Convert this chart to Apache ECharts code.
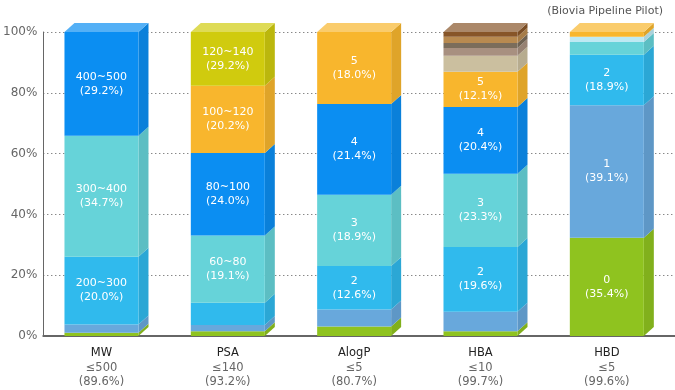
<!DOCTYPE html>
<html>
<head>
<meta charset="utf-8">
<script src="https://cdn.jsdelivr.net/npm/echarts@6/dist/echarts.min.js"></script>
<style>
html,body{margin:0;padding:0;background:#fff;}
#chart{width:675px;height:390px;}
</style>
</head>
<body>
<div id="chart"></div>
<script>
const categories = ['MW', 'PSA', 'AlogP', 'HBA', 'HBD'];
const limitLabels = ['≤500', '≤140', '≤5', '≤10', '≤5'];
const passRates = ['(89.6%)', '(93.2%)', '(80.7%)', '(99.7%)', '(99.6%)'];
const yTicks = [0, 20, 40, 60, 80, 100];

const mwValues = [1.1, 2.7, 22.3, 39.8, 34.1];
const mwColors = ['green', 'steel', 'sky', 'teal', 'blue'];
const mwLabels = ['', '', '200~300\n(20.0%)', '300~400\n(34.7%)', '400~500\n(29.2%)'];

const psaValues = [1.6, 2.0, 7.3, 22.2, 27.1, 22.1, 17.7];
const psaColors = ['green', 'steel', 'sky', 'teal', 'blue', 'orange', 'olive'];
const psaLabels = ['', '', '', '60~80\n(19.1%)', '80~100\n(24.0%)', '100~120\n(20.2%)', '120~140\n(29.2%)'];

const alogpValues = [3.1, 5.6, 14.3, 23.5, 29.8, 23.7];
const alogpColors = ['green', 'steel', 'sky', 'teal', 'blue', 'orange'];
const alogpLabels = ['', '', '2\n(12.6%)', '3\n(18.9%)', '4\n(21.4%)', '5\n(18.0%)'];

const hbaValues = [1.6, 6.4, 21.3, 24.1, 21.9, 11.6, 5.3, 2.5, 1.7, 2.0, 1.6];
const hbaColors = ['green', 'steel', 'sky', 'teal', 'blue', 'orange', 'beige', 'rosy', 'taupe', 'tan', 'brown'];
const hbaLabels = ['', '', '2\n(19.6%)', '3\n(23.3%)', '4\n(20.4%)', '5\n(12.1%)', '', '', '', '', ''];

const hbdValues = [32.3, 43.6, 16.6, 4.2, 1.7, 1.6];
const hbdColors = ['green', 'steel', 'sky', 'teal', 'pale', 'orange'];
const hbdLabels = ['0\n(35.4%)', '1\n(39.1%)', '2\n(18.9%)', '', '', ''];

const palette = {
  green: '#8fc31f', steel: '#68a8dc', sky: '#30baed', teal: '#66d3d9',
  blue: '#0b8ef2', orange: '#f8b62d', olive: '#d0cb0e', beige: '#cbbf9f',
  rosy: '#a89080', taupe: '#7b6d5b', tan: '#b88a50', brown: '#875528', pale: '#bde9f3'
};

const stacks = [
  [mwValues, mwColors, mwLabels],
  [psaValues, psaColors, psaLabels],
  [alogpValues, alogpColors, alogpLabels],
  [hbaValues, hbaColors, hbaLabels],
  [hbdValues, hbdColors, hbdLabels]
];

const segData = [];
const segColor = [];
const segLabel = [];
stacks.forEach(function (st, ci) {
  let acc = 0;
  st[0].forEach(function (v, k) {
    const isTop = k === st[0].length - 1 ? 1 : 0;
    segData.push([ci, acc, acc + v, segColor.length, isTop]);
    segColor.push(palette[st[1][k]]);
    segLabel.push(st[2][k]);
    acc += v;
  });
});

const FONT = '"DejaVu Sans", Verdana, sans-serif';
const FACE_W = 74, DEPTH_X = 10, DEPTH_Y = 9;

function shade(hex, t) {
  const c = echarts.color.parse(hex);
  const out = [0, 1, 2].map(function (i) {
    const v = t >= 0 ? c[i] + (255 - c[i]) * t : c[i] * (1 + t);
    return Math.round(v);
  });
  return 'rgb(' + out.join(',') + ')';
}

function renderItem(params, api) {
  const ci = api.value(0);
  const p0 = api.coord([ci, api.value(1)]);
  const p1 = api.coord([ci, api.value(2)]);
  const idx = api.value(3);
  const isTop = api.value(4);
  const color = segColor[idx];
  const x0 = p0[0] - (FACE_W + DEPTH_X) / 2;
  const x1 = x0 + FACE_W;
  const yb = p0[1], yt = p1[1];
  const children = [
    {
      type: 'polygon',
      shape: { points: [[x1, yb], [x1 + DEPTH_X, yb - DEPTH_Y], [x1 + DEPTH_X, yt - DEPTH_Y], [x1, yt]] },
      style: { fill: shade(color, -0.1) }
    },
    {
      type: 'rect',
      shape: { x: x0, y: yt, width: FACE_W, height: yb - yt },
      style: { fill: color }
    }
  ];
  if (isTop) {
    children.push({
      type: 'polygon',
      shape: { points: [[x0, yt], [x0 + DEPTH_X, yt - DEPTH_Y], [x1 + DEPTH_X, yt - DEPTH_Y], [x1, yt]] },
      style: { fill: shade(color, 0.3) }
    });
  }
  const label = segLabel[idx];
  if (label) {
    children.push({
      type: 'text',
      style: {
        text: label, x: x0 + FACE_W / 2, y: (yb + yt) / 2,
        align: 'center', verticalAlign: 'middle',
        fill: '#ffffff', font: '11px ' + FONT, lineHeight: 14
      }
    });
  }
  return { type: 'group', children: children };
}

const chart = echarts.init(document.getElementById('chart'), null, { renderer: 'canvas' });
chart.setOption({
  animation: false,
  backgroundColor: '#ffffff',
  title: {
    text: '(Biovia Pipeline Pilot)', right: 7, top: 1,
    textStyle: { fontSize: 11, color: '#555', fontWeight: 'normal', fontFamily: FONT }
  },
  grid: { left: 43, top: 32, width: 640, bottom: 54 },
  xAxis: {
    type: 'category',
    data: categories,
    axisLine: { lineStyle: { color: '#666', width: 2 } },
    axisTick: { show: false },
    axisLabel: {
      margin: 10,
      padding: [0, 10, 0, 0],
      fontFamily: FONT,
      formatter: function (v, i) {
        return '{a|' + v + '}\n{b|' + limitLabels[i] + '}\n{b|' + passRates[i] + '}';
      },
      rich: {
        a: { color: '#222', fontSize: 11.5, lineHeight: 14.5, fontFamily: FONT },
        b: { color: '#666', fontSize: 11.5, lineHeight: 14.5, fontFamily: FONT }
      }
    }
  },
  yAxis: {
    type: 'value',
    min: yTicks[0], max: yTicks[yTicks.length - 1], interval: 20,
    axisLine: { show: true, lineStyle: { color: '#666', width: 1 } },
    axisTick: { show: false },
    axisLabel: { formatter: '{value}%', color: '#666', fontSize: 12, margin: 6, fontFamily: FONT },
    splitLine: { show: true, lineStyle: { type: [1, 3], color: '#555', width: 1 } }
  },
  series: [{
    type: 'custom',
    renderItem: renderItem,
    encode: { x: 0, y: [1, 2] },
    data: segData
  }]
});
</script>
</body>
</html>
